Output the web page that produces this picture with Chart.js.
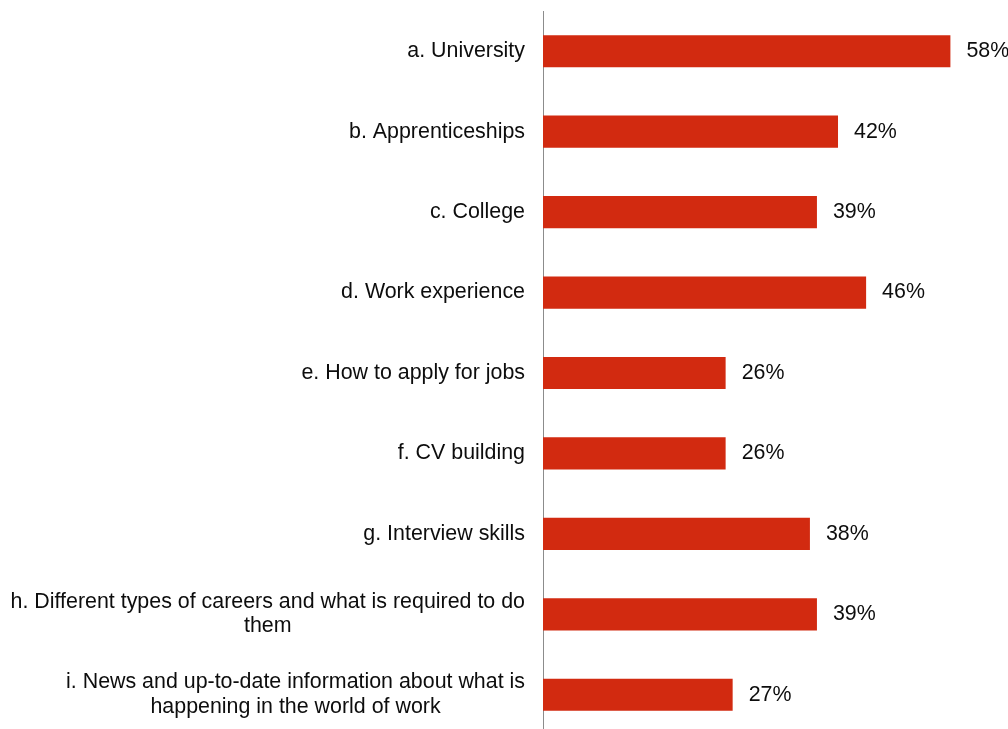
<!DOCTYPE html>
<html>
<head>
<meta charset="utf-8">
<script src="https://cdn.jsdelivr.net/npm/chart.js@4/dist/chart.umd.min.js"></script>
<style>
  html, body { margin: 0; padding: 0; background: #fff; overflow: hidden; }
  #wrap { width: 1008px; height: 736px; position: relative; }
</style>
</head>
<body>
<div id="wrap"><canvas id="chart"></canvas></div>
<script>
const categories = [
  ['a. University'],
  ['b. Apprenticeships'],
  ['c. College'],
  ['d. Work experience'],
  ['e. How to apply for jobs'],
  ['f. CV building'],
  ['g. Interview skills'],
  ['h. Different types of careers and what is required to do', 'them'],
  ['i. News and up-to-date information about what is', 'happening in the world of work']
];
const shares = [58, 42, 39, 46, 26, 26, 38, 39, 27];

const FONT = '21.4px "Liberation Sans", Arial, sans-serif';
const TEXT = '#0d0d0d';

// category names drawn left of the axis, each line centred inside its block
const categoryLabels = {
  id: 'categoryLabels',
  afterDraw(chart) {
    const ctx = chart.ctx;
    const yScale = chart.scales.y;
    const right = chart.chartArea.left - 18;
    const lineH = 24.5;
    ctx.save();
    ctx.font = FONT;
    ctx.fillStyle = TEXT;
    ctx.textAlign = 'center';
    ctx.textBaseline = 'middle';
    categories.forEach((lines, i) => {
      const yc = yScale.getPixelForValue(i);
      const w = Math.max(...lines.map(l => ctx.measureText(l).width));
      const cx = right - w / 2;
      const top = yc - (lines.length - 1) * lineH / 2;
      lines.forEach((l, j) => ctx.fillText(l, cx, top + j * lineH));
    });
    ctx.restore();
  }
};

// percentage labels just past the end of each bar
const valueLabels = {
  id: 'valueLabels',
  afterDatasetsDraw(chart) {
    const ctx = chart.ctx;
    const meta = chart.getDatasetMeta(0);
    ctx.save();
    ctx.font = FONT;
    ctx.fillStyle = TEXT;
    ctx.textAlign = 'left';
    ctx.textBaseline = 'middle';
    meta.data.forEach((bar, i) => {
      ctx.fillText(shares[i] + '%', bar.x + 16, bar.y);
    });
    ctx.restore();
  }
};

new Chart(document.getElementById('chart'), {
  type: 'bar',
  data: {
    labels: categories.map(c => c.join(' ')),
    datasets: [{
      data: shares,
      backgroundColor: '#D22A10',
      borderWidth: 0,
      barPercentage: 0.4,
      categoryPercentage: 1
    }]
  },
  options: {
    indexAxis: 'y',
    responsive: true,
    maintainAspectRatio: false,
    animation: false,
    layout: { padding: { top: 11, bottom: 1, left: 0, right: 0 } },
    plugins: {
      legend: { display: false },
      tooltip: { enabled: false }
    },
    scales: {
      x: {
        display: false,
        min: 0,
        max: 66.2
      },
      y: {
        grid: { display: false, drawTicks: false },
        border: { display: true, color: '#8c8c8c', width: 1 },
        ticks: { display: false },
        afterFit(scale) { scale.width = 543; }
      }
    }
  },
  plugins: [categoryLabels, valueLabels]
});
</script>
</body>
</html>
